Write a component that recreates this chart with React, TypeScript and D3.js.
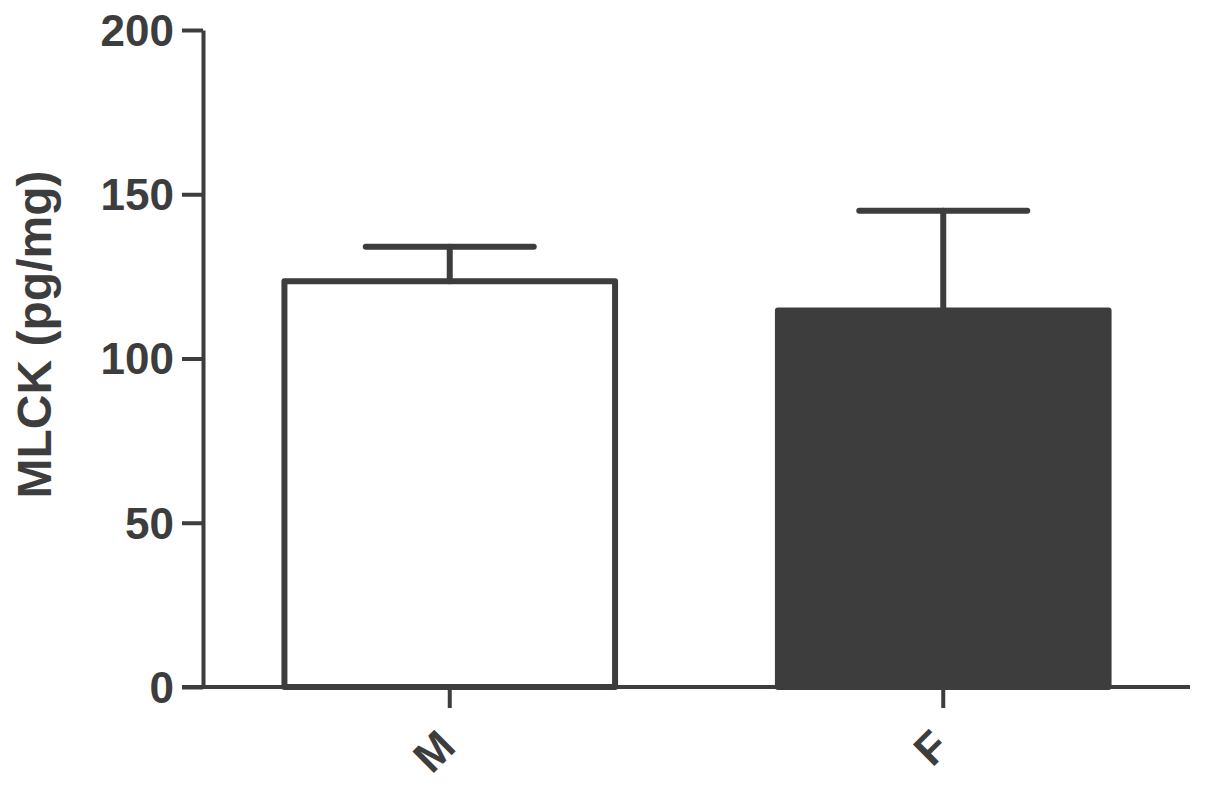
import React, { useEffect, useRef } from "react";
import * as d3 from "d3";

const groups = ["M", "F"];
const means = [123.5, 114.6];
const errors = [10.5, 30.4];
const fills = ["#ffffff", "#3d3d3d"];
const yTicks = [0, 50, 100, 150, 200];

const W = 1205;
const H = 796;
const ink = "#3d3d3d";

const App = () => {
  const ref = useRef<SVGSVGElement>(null);

  useEffect(() => {
    const svg = d3.select(ref.current);
    svg.selectAll("*").remove();

    const margin = { top: 30, right: 15, bottom: 109, left: 203 };

    const x = d3.scaleBand()
      .domain(groups)
      .range([margin.left, W - margin.right])
      .paddingInner(0.33)
      .paddingOuter(0.165);

    const y = d3.scaleLinear()
      .domain([0, 200])
      .range([H - margin.bottom, margin.top]);

    const font = "Liberation Sans, Arial, sans-serif";

    // bars
    svg.append("g")
      .selectAll("rect")
      .data(groups)
      .join("rect")
      .attr("x", d => x(d)!)
      .attr("width", x.bandwidth())
      .attr("y", (d, i) => y(means[i]))
      .attr("height", (d, i) => y(0) - y(means[i]))
      .attr("fill", (d, i) => fills[i])
      .attr("stroke", ink)
      .attr("stroke-width", 6)
      .attr("stroke-linejoin", "round");

    // error bars (upper only)
    const eb = svg.append("g")
      .attr("stroke", ink)
      .attr("stroke-width", 6)
      .attr("stroke-linecap", "round");
    groups.forEach((g, i) => {
      const cx = x(g)! + x.bandwidth() / 2;
      eb.append("line")
        .attr("x1", cx).attr("x2", cx)
        .attr("y1", y(means[i])).attr("y2", y(means[i] + errors[i]));
      eb.append("line")
        .attr("x1", cx - 84).attr("x2", cx + 84)
        .attr("y1", y(means[i] + errors[i])).attr("y2", y(means[i] + errors[i]));
    });

    // y axis
    const yAxisG = svg.append("g")
      .attr("transform", `translate(${margin.left},0)`)
      .call(d3.axisLeft(y).tickValues(yTicks).tickSize(21).tickPadding(8).tickSizeOuter(0));
    yAxisG.selectAll("path, line").attr("stroke", ink).attr("stroke-width", 4);
    yAxisG.selectAll("text")
      .attr("fill", ink)
      .attr("font-family", font)
      .attr("font-weight", "bold")
      .attr("font-size", 44)
      .attr("dy", "0.35em");

    // x axis
    const xAxisG = svg.append("g")
      .attr("transform", `translate(0,${y(0)})`)
      .call(d3.axisBottom(x).tickSize(21).tickSizeOuter(0));
    xAxisG.select(".domain")
      .attr("d", `M${margin.left - 21},0H${W - margin.right}`);
    xAxisG.selectAll("path, line").attr("stroke", ink).attr("stroke-width", 4);
    xAxisG.selectAll("text")
      .attr("fill", ink)
      .attr("font-family", font)
      .attr("font-weight", "bold")
      .attr("font-size", 44)
      .attr("text-anchor", "end")
      .attr("y", 0)
      .attr("dy", 0)
      .attr("transform", "translate(8,62) rotate(-45)");

    // y label
    svg.append("text")
      .attr("transform", `translate(51,${(y(0) + y(200)) / 2 - 24}) rotate(-90)`)
      .attr("text-anchor", "middle")
      .attr("font-family", font)
      .attr("font-weight", "bold")
      .attr("font-size", 48)
      .attr("fill", ink)
      .text("MLCK (pg/mg)");
  }, []);

  return (
    <svg ref={ref} width={W} height={H} style={{ position: "absolute", left: 0, top: 0, background: "#fff" }} />
  );
};

export default App;
